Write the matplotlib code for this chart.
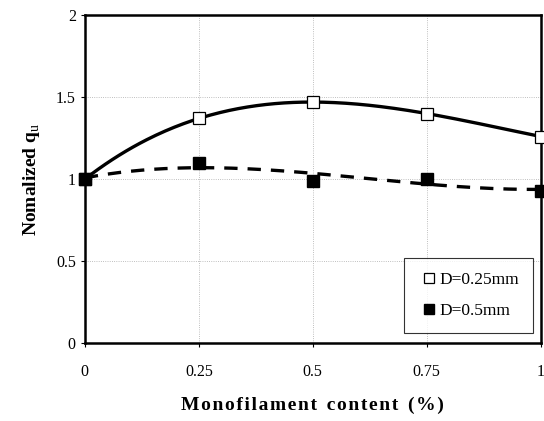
import matplotlib.pyplot as plt
import numpy as np

plt.rcParams['font.family'] = ['Liberation Serif', 'DejaVu Serif']
plt.rcParams['mathtext.fontset'] = 'custom'
plt.rcParams['mathtext.rm'] = 'Liberation Serif'
plt.rcParams['mathtext.bf'] = 'Liberation Serif:bold'

# 数据
content = [0, 0.25, 0.5, 0.75, 1.0]
qu_025 = [1.00, 1.37, 1.47, 1.40, 1.26]
qu_05 = [1.00, 1.10, 0.99, 1.00, 0.93]
xticks = [0, 0.25, 0.5, 0.75, 1]
xtick_labels = ['0', '0.25', '0.5', '0.75', '1']
yticks = [0, 0.5, 1, 1.5, 2]
ytick_labels = ['0', '0.5', '1', '1.5', '2']

fig = plt.figure(figsize=(5.44, 4.21), dpi=100)
ax = fig.add_axes([0.156, 0.185, 0.838, 0.779])

# 趋势线（多项式拟合）
xs = np.linspace(0, 1, 200)
p1 = np.polyfit(content, qu_025, 3)
p2 = np.polyfit(content, qu_05, 3)
ax.plot(xs, np.polyval(p1, xs), 'k-', lw=2.4, zorder=2)
ax.plot(xs, np.polyval(p2, xs), 'k--', lw=2.4, dashes=(4, 3), zorder=2)

ax.plot(content, qu_025, 's', ms=8, mfc='white', mec='black', mew=0.9,
        ls='none', label='D=0.25mm', zorder=3, clip_on=False)
ax.plot(content, qu_05, 's', ms=8, mfc='black', mec='black',
        ls='none', label='D=0.5mm', zorder=3, clip_on=False)

ax.set_xlim(0, 1)
ax.set_ylim(0, 2)
ax.set_xticks(xticks)
ax.set_xticklabels(xtick_labels)
ax.set_yticks(yticks)
ax.set_yticklabels(ytick_labels)
ax.tick_params(labelsize=11.5, length=3, width=0.8, direction='out')
ax.tick_params(axis='x', pad=12)

ax.grid(True, color='#aaaaaa', ls=':', lw=0.6)
for s in ax.spines.values():
    s.set_linewidth(1.8)

# 字间距稍宽的横轴标题
words = ['Monofilament', 'content', '(%)']
xlabel = '  '.join('\u200a'.join(w) for w in words)
ax.set_xlabel(xlabel, fontsize=14, fontweight='bold', labelpad=12)
ax.set_ylabel(r'Nomalized q$_\mathrm{u}$', fontsize=14, fontweight='bold',
              labelpad=10)

leg = ax.legend(loc='lower right', fontsize=12.5, frameon=True, fancybox=False,
                edgecolor='black', handletextpad=-0.1, labelspacing=0.85,
                borderpad=0.8, handlelength=1.3, markerscale=0.95,
                bbox_to_anchor=(0.982, 0.03), borderaxespad=0)
leg.get_frame().set_linewidth(0.8)

plt.savefig('out.png', dpi=100)
